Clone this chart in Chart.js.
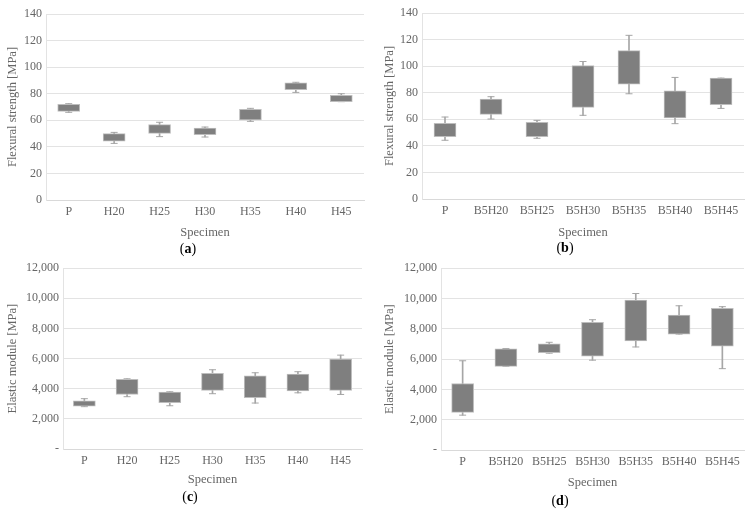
<!DOCTYPE html>
<html>
<head>
<meta charset="utf-8">
<script src="https://cdn.jsdelivr.net/npm/chart.js@4"></script>
<style>
  body { margin: 0; background: #fff; width: 754px; height: 514px; position: relative; overflow: hidden; }
  .box { position: absolute; }
  .cap { position: absolute; text-align: center; font-family: 'Liberation Serif', serif; font-size: 14px; color: #000; }
</style>
</head>
<body>
<div class="box" style="left:0;top:0;width:372px;height:242px"><canvas id="chartA"></canvas></div>
<div class="box" style="left:377px;top:0;width:377px;height:242px"><canvas id="chartB"></canvas></div>
<div class="box" style="left:0;top:257px;width:370px;height:232px"><canvas id="chartC"></canvas></div>
<div class="box" style="left:377px;top:257px;width:377px;height:235px"><canvas id="chartD"></canvas></div>
<div class="cap" style="left:0;top:241px;width:376px">(<b>a</b>)</div>
<div class="cap" style="left:377px;top:240px;width:376px">(<b>b</b>)</div>
<div class="cap" style="left:0;top:489px;width:380px">(<b>c</b>)</div>
<div class="cap" style="left:377px;top:493px;width:366px">(<b>d</b>)</div>
<script>
// flexural strength, H series
let catsA = ['P', 'H20', 'H25', 'H30', 'H35', 'H40', 'H45'];
let minA = [66, 42.6, 47.7, 47.4, 59.2, 81, 74];
let q1A = [66.7, 44.2, 50.2, 49.2, 60.2, 83, 74];
let q3A = [72, 49.9, 56.7, 54.2, 68.2, 88.1, 78.8];
let maxA = [72.5, 50.9, 58.5, 54.9, 69, 88.6, 80];

// flexural strength, B5H series
let catsB = ['P', 'B5H20', 'B5H25', 'B5H30', 'B5H35', 'B5H40', 'B5H45'];
let minB = [44.2, 60.2, 45.7, 63, 79.2, 56.7, 68.2];
let q1B = [47, 63.7, 47, 69, 86.5, 61, 71];
let q3B = [57, 75.2, 57.7, 100.5, 111.7, 81.5, 91];
let maxB = [61.7, 77, 59.2, 103.5, 123.2, 91.5, 91];

// elastic module, H series
let catsC = ['P', 'H20', 'H25', 'H30', 'H35', 'H40', 'H45'];
let minC = [2810, 3470, 2870, 3670, 3050, 3730, 3620];
let q1C = [2850, 3620, 3070, 3890, 3400, 3850, 3890];
let q3C = [3200, 4620, 3780, 5020, 4860, 4970, 5970];
let maxC = [3340, 4660, 3800, 5260, 5060, 5130, 6230];

// elastic module, B5H series
let catsD = ['P', 'B5H20', 'B5H25', 'B5H30', 'B5H35', 'B5H40', 'B5H45'];
let minD = [2300, 5520, 6390, 5930, 6800, 7650, 5370];
let q1D = [2480, 5520, 6430, 6200, 7200, 7650, 6850];
let q3D = [4390, 6670, 7000, 8430, 9890, 8910, 9350];
let maxD = [5890, 6700, 7110, 8600, 10330, 9520, 9460];

const txt = '#666666';
const fam = "'Liberation Serif', serif";

// lay = [yAxisWidth, paddingTop, paddingRight, xAxisHeight]
function makeBox(id, cats, mins, q1s, q3s, maxs, yMax, step, yTitle, fmt, lay) {
    let ctx = document.getElementById(id).getContext('2d');
    return new Chart(ctx, {
        type: 'bar',
        data: {
            labels: cats,
            datasets: [{
                label: 'box',
                data: cats.map((c, i) => [q1s[i], q3s[i]]),
                backgroundColor: '#7f7f7f',
                borderColor: '#bdbdbd',
                borderWidth: 1,
                borderSkipped: false,
                barThickness: 22,
                grouped: false,
                order: 0
            }, {
                label: 'whisker',
                data: cats.map((c, i) => [mins[i], maxs[i]]),
                backgroundColor: '#a6a6a6',
                borderWidth: 0,
                barThickness: 1,
                grouped: false,
                order: 2
            }, {
                type: 'line',
                label: 'min',
                data: mins,
                showLine: false,
                pointStyle: 'line',
                pointRadius: 3.5,
                pointHoverRadius: 3.5,
                borderColor: '#a6a6a6',
                borderWidth: 1,
                order: 1
            }, {
                type: 'line',
                label: 'max',
                data: maxs,
                showLine: false,
                pointStyle: 'line',
                pointRadius: 3.5,
                pointHoverRadius: 3.5,
                borderColor: '#a6a6a6',
                borderWidth: 1,
                order: 1
            }]
        },
        options: {
            responsive: true,
            maintainAspectRatio: false,
            animation: false,
            layout: { padding: { top: lay[1], right: lay[2], left: 0, bottom: 0 } },
            plugins: { legend: { display: false }, tooltip: { enabled: false } },
            scales: {
                x: {
                    offset: true,
                    grid: { display: false, drawTicks: false },
                    border: { color: '#d9d9d9' },
                    ticks: { color: txt, font: { family: fam, size: 12 }, maxRotation: 0, padding: 5 },
                    title: { display: true, text: 'Specimen', color: txt, font: { family: fam, size: 12.5 }, padding: { top: 0, bottom: 2 } },
                    afterFit: s => { s.height = lay[3]; }
                },
                y: {
                    min: 0,
                    max: yMax,
                    ticks: { stepSize: step, color: txt, font: { family: fam, size: 12 }, callback: fmt, padding: 4 },
                    grid: { color: '#e3e3e3', drawTicks: false },
                    border: { color: '#e3e3e3' },
                    title: { display: true, text: yTitle, color: txt, font: { family: fam, size: 12.5 }, padding: { top: 5, bottom: 0 } },
                    afterFit: s => { s.width = lay[0]; }
                }
            }
        }
    });
}

let plain = v => v;
let thou = v => v === 0 ? '-' : v.toLocaleString('en-US');

var chartA = makeBox('chartA', catsA, minA, q1A, q3A, maxA, 140, 20, 'Flexural strength [MPa]', plain, [46, 14, 8, 42]);
var chartB = makeBox('chartB', catsB, minB, q1B, q3B, maxB, 140, 20, 'Flexural strength [MPa]', plain, [45, 13, 10, 43]);
var chartC = makeBox('chartC', catsC, minC, q1C, q3C, maxC, 12000, 2000, 'Elastic module [MPa]', thou, [63, 11, 8, 40]);
var chartD = makeBox('chartD', catsD, minD, q1D, q3D, maxD, 12000, 2000, 'Elastic module [MPa]', thou, [64, 9, 10, 42]);
</script>
</body>
</html>
